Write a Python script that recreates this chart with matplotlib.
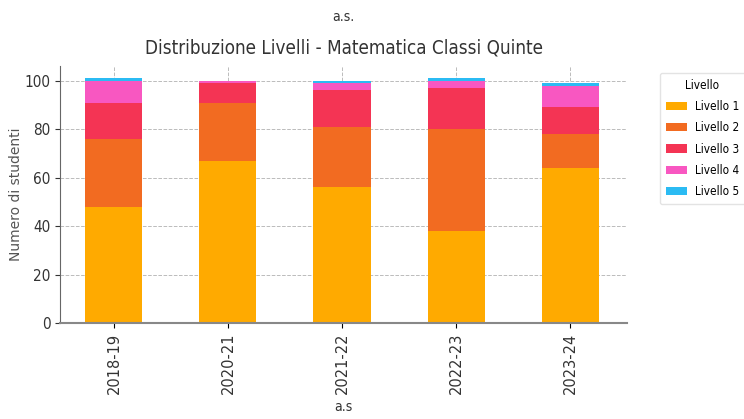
import matplotlib
matplotlib.use("Agg")
import matplotlib.pyplot as plt
import numpy as np

years = ["2018-19", "2020-21", "2021-22", "2022-23", "2023-24"]
livello1 = [48, 67, 56, 38, 64]
livello2 = [28, 24, 25, 42, 14]
livello3 = [15, 8, 15, 17, 11]
livello4 = [9, 1, 3, 3, 9]
livello5 = [1, 0, 1, 1, 1]
series_names = ["Livello 1", "Livello 2", "Livello 3", "Livello 4", "Livello 5"]
colors = ["#FFAA00", "#F26B21", "#F43454", "#F857C1", "#2BBBF3"]

plt.rcParams['font.family'] = ['DejaVu Sans']
plt.rcParams['font.stretch'] = 'condensed'
fig = plt.figure(figsize=(7.44, 4.19), dpi=100)
ax = fig.add_axes([0.081, 0.229, 0.762, 0.613])

x = np.arange(len(years))
bottom = np.zeros(len(years))
for name, vals, c in zip(series_names, [livello1, livello2, livello3, livello4, livello5], colors):
    ax.bar(x, vals, width=0.5, bottom=bottom, color=c, label=name, zorder=2)
    bottom += np.array(vals)

ax.set_xlim(-0.47, 4.5)
ax.set_ylim(0, 106)
ax.set_yticks(range(0, 101, 20))
ax.set_xticks(x)
ax.set_xticklabels(years, rotation=90, fontsize=10.5, color="#333333", fontstretch='normal')
ax.tick_params(axis='y', labelsize=11, colors="#333333")
ax.grid(True, linestyle='--', color='#bbbbbb', linewidth=0.7, zorder=0)
ax.set_axisbelow(True)
for s in ['top', 'right']:
    ax.spines[s].set_visible(False)
ax.spines['left'].set_color('#666666')
ax.spines['bottom'].set_color('#888888')
ax.spines['bottom'].set_linewidth(1.5)

ax.set_title("Distribuzione Livelli - Matematica Classi Quinte", fontsize=13.5, color="#333333", pad=9)
ax.set_ylabel("Numero di studenti", fontsize=10, color="#555555", fontstretch='normal')
ax.yaxis.set_label_coords(-0.066, 0.5)
ax.set_xlabel("a.s", fontsize=10, color="#333333", labelpad=4)
fig.text(0.462, 0.96, "a.s.", ha='center', va='center', fontsize=10, color="#333333")

leg = fig.legend(title="Livello", loc='upper left', bbox_to_anchor=(0.887, 0.826), fontsize=8.5,
                 title_fontsize=8.5, frameon=True, handlelength=1.8, handletextpad=0.65,
                 borderpad=0.5, labelspacing=0.7, borderaxespad=0)
leg.get_frame().set_edgecolor('#dddddd')

fig.savefig("out.png", dpi=100)
